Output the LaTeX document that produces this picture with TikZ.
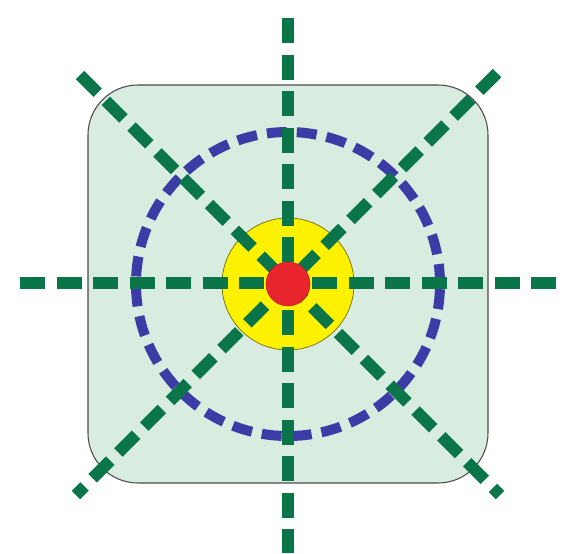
\documentclass[tikz,border=0pt]{standalone}
\usetikzlibrary{positioning}
\definecolor{paleg}{HTML}{D8ECE0}
\definecolor{rayg}{HTML}{0A7548}
\definecolor{ringb}{HTML}{3C3CA6}
\definecolor{sunny}{HTML}{FFF200}
\definecolor{dotred}{HTML}{E8252C}
\begin{document}
\begin{tikzpicture}[
    x=0.2mm, y=-0.2mm,
    panel/.style={draw=black!70, line width=0.6pt, fill=paleg, rounded corners=10mm},
    ray/.style={draw=rayg, line width=2.4mm, dash pattern=on 5mm off 2.3mm},
    ring/.style={circle, draw=ringb, line width=2mm, dash pattern=on 4mm off 2mm, minimum size=60.8mm, inner sep=0pt},
    disc/.style={circle, draw=black!55!sunny, line width=0.4pt, fill=sunny, minimum size=26.4mm, inner sep=0pt},
    dot/.style={circle, draw=dotred!80!black, line width=0.3pt, fill=dotred, minimum size=8.8mm, inner sep=0pt}
]
\useasboundingbox (0,0) rectangle (581,553);
\draw[panel] (88,85) rectangle (488,483);

\coordinate (c) at (288,284);
\node[disc] (sun) at (c) {};
\node[ring] (orbit) at (c) {};

% ray ends
\coordinate (n) at (288,18);
\coordinate (s) at (288,553);
\coordinate (w) at (20,283);
\coordinate (e) at (557,283);
\coordinate (nw) at (80,75);
\coordinate (se) at (500,495);
\coordinate (ne) at (497,73);
\coordinate (sw) at (76,495);

\draw[ray] (n) -- (s);
\draw[ray] (w) -- (e);
\draw[ray] (nw) -- (se);
\draw[ray] (ne) -- (sw);

\node[dot] (core) at (c) {};
\end{tikzpicture}
\end{document}
